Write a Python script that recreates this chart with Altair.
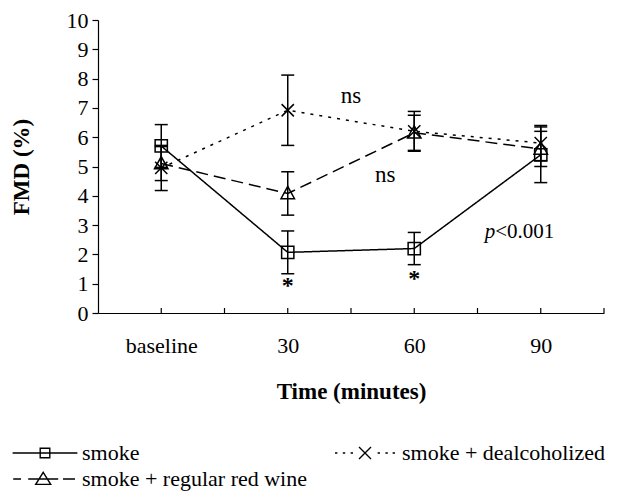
import json
import altair as alt
import pandas as pd

# ---- data ----
times = ["baseline", "30", "60", "90"]
series = ["smoke", "smoke + dealcoholized", "smoke + regular red wine"]
smoke_mean = [5.70, 2.07, 2.20, 5.40]
smoke_err = [0.73, 0.73, 0.55, 0.95]
dealc_mean = [4.95, 6.92, 6.20, 5.80]
dealc_err = [0.77, 1.20, 0.68, 0.60]
wine_mean = [5.10, 4.08, 6.15, 5.60]
wine_err = [0.58, 0.74, 0.60, 0.60]

y_ticks = list(range(0, 11))
x_minor_ticks = [0.5, 1.0, 1.5, 2.0, 2.5, 3.0, 3.5, 4.0]

ann_text = ["ns", "ns"]
ann_x = [2.0, 2.27]
ann_y = [7.42, 4.70]
star_x = [1.5, 2.5]
star_y = [0.95, 1.20]
p_x = [3.14]
p_y = [2.77]

rows = []
for s, m, e in zip(series, [smoke_mean, dealc_mean, wine_mean],
                   [smoke_err, dealc_err, wine_err]):
    for i, t in enumerate(times):
        rows.append(dict(series=s, time=t, pos=i + 0.5, mean=m[i],
                         lo=m[i] - e[i], hi=m[i] + e[i]))
df = pd.DataFrame(rows)

FONT = "'Liberation Serif', 'Times New Roman', Times, serif"
W, H = 506, 293

xs = alt.Scale(domain=[0, 4], nice=False, zero=False)
ys = alt.Scale(domain=[0, 10], nice=False)

label_expr = json.dumps(times) + "[floor(datum.value)]"
x_axis = alt.Axis(values=[0.5, 1.5, 2.5, 3.5], labelExpr=label_expr,
                  ticks=False, title="Time (minutes)", labelPadding=22,
                  titlePadding=24, labelFontSize=22, domainWidth=1.2,
                  labelOverlap=False)
y_axis = alt.Axis(values=y_ticks, title="FMD (%)", tickSize=6,
                  labelPadding=4, titlePadding=33, labelFontSize=22,
                  domainWidth=1.2, tickWidth=1.2, labelOverlap=False)


def X():
    return alt.X("pos:Q", scale=xs, axis=x_axis)


def Y(field="mean"):
    return alt.Y(f"{field}:Q", scale=ys, axis=y_axis)


base = alt.Chart(df)

dash_scale = alt.Scale(domain=series, range=[[1, 0], [3, 6], [12, 6]])
lines = base.mark_line(color="black", strokeWidth=1.5).encode(
    x=X(), y=Y(),
    strokeDash=alt.StrokeDash("series:N", scale=dash_scale, legend=None),
    detail="series:N")

bars = base.mark_rule(color="black", strokeWidth=1.5).encode(
    x=X(), y=Y("lo"), y2="hi:Q")
cap_lo = base.mark_tick(color="black", orient="horizontal", size=13,
                        thickness=1.5, opacity=1).encode(x=X(), y=Y("lo"))
cap_hi = base.mark_tick(color="black", orient="horizontal", size=13,
                        thickness=1.5, opacity=1).encode(x=X(), y=Y("hi"))

sq_path = "M-1,-1H1V1H-1Z"
x_path = "M-1,-1L1,1M-1,1L1,-1"
tri_path = "M0,-1.15L1.1,0.85H-1.1Z"
points = base.mark_point(filled=False, color="black", opacity=1,
                         strokeWidth=1.5, size=150).encode(
    x=X(), y=Y(),
    shape=alt.Shape("series:N",
                    scale=alt.Scale(domain=series, range=[sq_path, x_path, tri_path]),
                    legend=None))

leg_smoke = "M-5.4,0H5.4M-0.8,-0.8H0.8V0.8H-0.8Z"
leg_dealc = ("M-5,0h0.4M-3.7,0h0.4M-2.4,0h0.4M2.1,0h0.4M3.4,0h0.4M4.6,0h0.4"
             "M-1,-1L1,1M-1,1L1,-1")
leg_wine = ("M-5.3,0H-4M-2.8,0H2.2M3,0H5"
            "M-0.3,-1.1L0.95,0.9H-1.55Z")
legend_layer = base.transform_filter("false").mark_point(
    filled=False, color="black", opacity=1, strokeWidth=1.4).encode(
    x=X(), y=Y(),
    shape=alt.Shape("series:N",
                    scale=alt.Scale(domain=series, range=[leg_smoke, leg_dealc, leg_wine]),
                    legend=alt.Legend(orient="none", legendX=-88, legendY=422,
                                      direction="horizontal",
                                      columns=2, title=None, symbolSize=144,
                                      symbolStrokeWidth=1.4, symbolStrokeColor="black",
                                      symbolFillColor="transparent", symbolOpacity=1,
                                      symbolOffset=24, labelOffset=26,
                                      labelFont=FONT, labelFontSize=22,
                                      labelColor="black", labelLimit=500,
                                      columnPadding=23, rowPadding=4, padding=0)))

tick_df = pd.DataFrame({"pos": x_minor_ticks})
xticks = alt.Chart(tick_df).mark_rule(color="black", strokeWidth=1.2).encode(
    x=X(), y=alt.value(H), y2=alt.value(H - 5))

ann_df = pd.DataFrame({"pos": ann_x, "mean": ann_y, "text": ann_text})
ann = alt.Chart(ann_df).mark_text(font=FONT, fontSize=23, color="black").encode(
    x=X(), y=Y(), text="text:N")

star_df = pd.DataFrame({"pos": star_x, "mean": star_y, "text": ["*"] * len(star_x)})
stars = alt.Chart(star_df).mark_text(font=FONT, fontSize=24, fontWeight="bold",
                                     color="black", baseline="middle", dy=1).encode(
    x=X(), y=Y(), text="text:N")

p_df = pd.DataFrame({"pos": p_x, "mean": p_y})
p_it = alt.Chart(p_df).mark_text(font=FONT, fontSize=21, fontStyle="italic",
                                 color="black", align="right", text="p").encode(
    x=X(), y=Y())
p_rest = alt.Chart(p_df).mark_text(font=FONT, fontSize=21, color="black",
                                   align="left", text="<0.001").encode(
    x=X(), y=Y())

chart = alt.layer(lines, bars, cap_lo, cap_hi, xticks, points, legend_layer,
                  ann, stars, p_it, p_rest).resolve_scale(
    shape="independent", strokeDash="independent").properties(
    width=W, height=H,
    autosize=alt.AutoSizeParams(type="none"),
    padding={"left": 90, "top": 12, "right": 8, "bottom": 179},
    background="white").configure_view(stroke=None).configure_axis(
    labelFont=FONT, titleFont=FONT, labelColor="black", titleColor="black",
    domainColor="black", tickColor="black", grid=False, titleFontSize=23,
    titleFontWeight="bold")

chart.save("out.html", embed_options={"renderer": "svg", "actions": False})
